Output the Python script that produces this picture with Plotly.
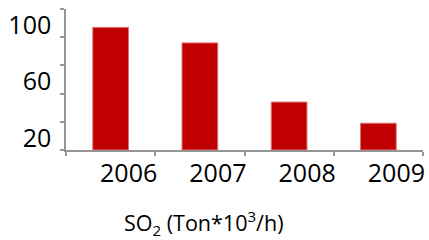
import plotly.graph_objects as go

years = ["2006", "2007", "2008", "2009"]
so2 = [87, 76, 34, 19]
y_tick_vals = [0, 20, 40, 60, 80, 100]
y_tick_text = ["", "20", "", "60", "", "100"]
title_text = "SO<sub>2</sub> (Ton*10<sup>3</sup>/h)"

FONT = "Open Sans"
AXIS_COLOR = "#959595"

fig = go.Figure(
    go.Bar(
        x=years,
        y=so2,
        marker=dict(color="#C00000", line=dict(color="#E07070", width=1)),
    )
)

fig.update_layout(
    width=429,
    height=240,
    margin=dict(l=66, r=6, t=9, b=90, autoexpand=False),
    paper_bgcolor="white",
    plot_bgcolor="white",
    bargap=0.6,
    showlegend=False,
    font=dict(family=FONT, color="black"),
)

fig.update_xaxes(
    type="category",
    automargin=False,
    showline=True,
    linecolor=AXIS_COLOR,
    linewidth=1.5,
    ticks="outside",
    tickson="boundaries",
    ticklen=4,
    tickcolor=AXIS_COLOR,
    tickwidth=1.5,
    showgrid=False,
    tickfont=dict(family=FONT, size=25, color="black"),
    ticklabelshift=18,
    ticklabelstandoff=0,
)

fig.update_yaxes(
    range=[0, 100.05],
    automargin=False,
    showline=True,
    linecolor=AXIS_COLOR,
    linewidth=1.5,
    ticks="outside",
    ticklen=4,
    tickcolor=AXIS_COLOR,
    tickwidth=1.5,
    tickvals=y_tick_vals,
    ticktext=y_tick_text,
    showgrid=False,
    zeroline=False,
    tickfont=dict(family=FONT, size=25, color="black"),
    ticklabelshift=16,
    ticklabelstandoff=4,
)

fig.add_annotation(
    text=title_text,
    xref="paper",
    yref="paper",
    x=0.385,
    y=-0.515,
    xanchor="center",
    yanchor="middle",
    showarrow=False,
    font=dict(family=FONT, size=21.5, color="black"),
)

fig.write_html(
    "out.html",
    config={"displayModeBar": False},
    post_script="document.body.style.margin='0';document.body.style.padding='0';",
)
